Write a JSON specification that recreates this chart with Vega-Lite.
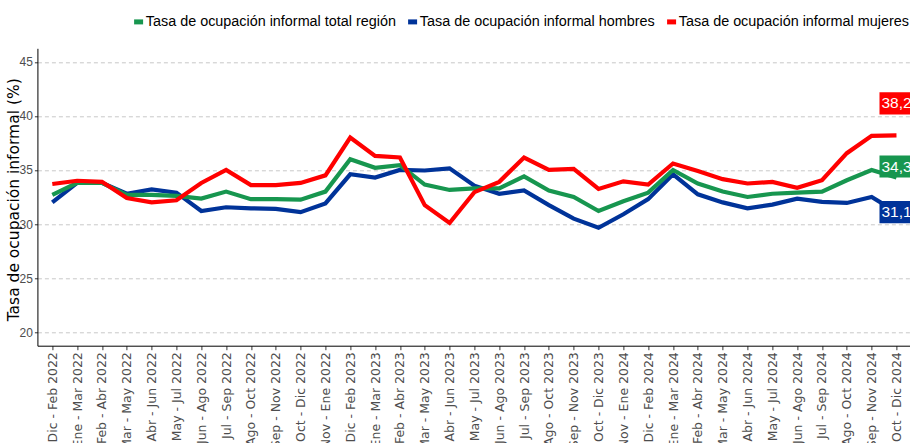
{
  "$schema": "https://vega.github.io/schema/vega-lite/v6.json",
  "autosize": {"type": "none"},
  "width": 874,
  "height": 297.4,
  "padding": {"left": 37.4, "top": 48.3, "right": 0, "bottom": 100},
  "background": "white",
  "config": {
    "view": {"stroke": null},
    "locale": {"number": {"decimal": ",", "thousands": ".", "grouping": [3], "currency": ["", " €"]}},
    "axis": {"domainColor": "#000000", "domainWidth": 1, "tickColor": "#333333", "titleFontWeight": "normal"}
  },
  "data": {"values": [
    {"periodo": "Dic - Feb 2022", "serie": "Tasa de ocupación informal hombres", "valor": 32.0},
    {"periodo": "Ene - Mar 2022", "serie": "Tasa de ocupación informal hombres", "valor": 33.8},
    {"periodo": "Feb - Abr 2022", "serie": "Tasa de ocupación informal hombres", "valor": 33.8},
    {"periodo": "Mar - May 2022", "serie": "Tasa de ocupación informal hombres", "valor": 32.8},
    {"periodo": "Abr - Jun 2022", "serie": "Tasa de ocupación informal hombres", "valor": 33.2},
    {"periodo": "May - Jul 2022", "serie": "Tasa de ocupación informal hombres", "valor": 32.9},
    {"periodo": "Jun - Ago 2022", "serie": "Tasa de ocupación informal hombres", "valor": 31.2},
    {"periodo": "Jul - Sep 2022", "serie": "Tasa de ocupación informal hombres", "valor": 31.55},
    {"periodo": "Ago - Oct 2022", "serie": "Tasa de ocupación informal hombres", "valor": 31.45},
    {"periodo": "Sep - Nov 2022", "serie": "Tasa de ocupación informal hombres", "valor": 31.4},
    {"periodo": "Oct - Dic 2022", "serie": "Tasa de ocupación informal hombres", "valor": 31.1},
    {"periodo": "Nov - Ene 2022", "serie": "Tasa de ocupación informal hombres", "valor": 31.9},
    {"periodo": "Dic - Feb 2023", "serie": "Tasa de ocupación informal hombres", "valor": 34.6},
    {"periodo": "Ene - Mar 2023", "serie": "Tasa de ocupación informal hombres", "valor": 34.3},
    {"periodo": "Feb - Abr 2023", "serie": "Tasa de ocupación informal hombres", "valor": 35.0},
    {"periodo": "Mar - May 2023", "serie": "Tasa de ocupación informal hombres", "valor": 34.95},
    {"periodo": "Abr - Jun 2023", "serie": "Tasa de ocupación informal hombres", "valor": 35.15},
    {"periodo": "May - Jul 2023", "serie": "Tasa de ocupación informal hombres", "valor": 33.55},
    {"periodo": "Jun - Ago 2023", "serie": "Tasa de ocupación informal hombres", "valor": 32.8},
    {"periodo": "Jul - Sep 2023", "serie": "Tasa de ocupación informal hombres", "valor": 33.1},
    {"periodo": "Ago - Oct 2023", "serie": "Tasa de ocupación informal hombres", "valor": 31.75},
    {"periodo": "Sep - Nov 2023", "serie": "Tasa de ocupación informal hombres", "valor": 30.5},
    {"periodo": "Oct - Dic 2023", "serie": "Tasa de ocupación informal hombres", "valor": 29.65},
    {"periodo": "Nov - Ene 2024", "serie": "Tasa de ocupación informal hombres", "valor": 30.9},
    {"periodo": "Dic - Feb 2024", "serie": "Tasa de ocupación informal hombres", "valor": 32.3},
    {"periodo": "Ene - Mar 2024", "serie": "Tasa de ocupación informal hombres", "valor": 34.6},
    {"periodo": "Feb - Abr 2024", "serie": "Tasa de ocupación informal hombres", "valor": 32.75},
    {"periodo": "Mar - May 2024", "serie": "Tasa de ocupación informal hombres", "valor": 32.0},
    {"periodo": "Abr - Jun 2024", "serie": "Tasa de ocupación informal hombres", "valor": 31.45},
    {"periodo": "May - Jul 2024", "serie": "Tasa de ocupación informal hombres", "valor": 31.8},
    {"periodo": "Jun - Ago 2024", "serie": "Tasa de ocupación informal hombres", "valor": 32.35},
    {"periodo": "Jul - Sep 2024", "serie": "Tasa de ocupación informal hombres", "valor": 32.05},
    {"periodo": "Ago - Oct 2024", "serie": "Tasa de ocupación informal hombres", "valor": 31.95},
    {"periodo": "Sep - Nov 2024", "serie": "Tasa de ocupación informal hombres", "valor": 32.5},
    {"periodo": "Oct - Dic 2024", "serie": "Tasa de ocupación informal hombres", "valor": 31.1},
    {"periodo": "Dic - Feb 2022", "serie": "Tasa de ocupación informal total región", "valor": 32.7},
    {"periodo": "Ene - Mar 2022", "serie": "Tasa de ocupación informal total región", "valor": 33.8},
    {"periodo": "Feb - Abr 2022", "serie": "Tasa de ocupación informal total región", "valor": 33.8},
    {"periodo": "Mar - May 2022", "serie": "Tasa de ocupación informal total región", "valor": 32.7},
    {"periodo": "Abr - Jun 2022", "serie": "Tasa de ocupación informal total región", "valor": 32.7},
    {"periodo": "May - Jul 2022", "serie": "Tasa de ocupación informal total región", "valor": 32.6},
    {"periodo": "Jun - Ago 2022", "serie": "Tasa de ocupación informal total región", "valor": 32.35},
    {"periodo": "Jul - Sep 2022", "serie": "Tasa de ocupación informal total región", "valor": 33.0},
    {"periodo": "Ago - Oct 2022", "serie": "Tasa de ocupación informal total región", "valor": 32.3},
    {"periodo": "Sep - Nov 2022", "serie": "Tasa de ocupación informal total región", "valor": 32.3},
    {"periodo": "Oct - Dic 2022", "serie": "Tasa de ocupación informal total región", "valor": 32.25},
    {"periodo": "Nov - Ene 2022", "serie": "Tasa de ocupación informal total región", "valor": 33.0},
    {"periodo": "Dic - Feb 2023", "serie": "Tasa de ocupación informal total región", "valor": 36.0},
    {"periodo": "Ene - Mar 2023", "serie": "Tasa de ocupación informal total región", "valor": 35.2},
    {"periodo": "Feb - Abr 2023", "serie": "Tasa de ocupación informal total región", "valor": 35.45},
    {"periodo": "Mar - May 2023", "serie": "Tasa de ocupación informal total región", "valor": 33.65},
    {"periodo": "Abr - Jun 2023", "serie": "Tasa de ocupación informal total región", "valor": 33.15},
    {"periodo": "May - Jul 2023", "serie": "Tasa de ocupación informal total región", "valor": 33.3},
    {"periodo": "Jun - Ago 2023", "serie": "Tasa de ocupación informal total región", "valor": 33.3},
    {"periodo": "Jul - Sep 2023", "serie": "Tasa de ocupación informal total región", "valor": 34.4},
    {"periodo": "Ago - Oct 2023", "serie": "Tasa de ocupación informal total región", "valor": 33.1},
    {"periodo": "Sep - Nov 2023", "serie": "Tasa de ocupación informal total región", "valor": 32.5},
    {"periodo": "Oct - Dic 2023", "serie": "Tasa de ocupación informal total región", "valor": 31.2},
    {"periodo": "Nov - Ene 2024", "serie": "Tasa de ocupación informal total región", "valor": 32.1},
    {"periodo": "Dic - Feb 2024", "serie": "Tasa de ocupación informal total región", "valor": 32.9},
    {"periodo": "Ene - Mar 2024", "serie": "Tasa de ocupación informal total región", "valor": 35.0},
    {"periodo": "Feb - Abr 2024", "serie": "Tasa de ocupación informal total región", "valor": 33.75},
    {"periodo": "Mar - May 2024", "serie": "Tasa de ocupación informal total región", "valor": 33.0},
    {"periodo": "Abr - Jun 2024", "serie": "Tasa de ocupación informal total región", "valor": 32.5},
    {"periodo": "May - Jul 2024", "serie": "Tasa de ocupación informal total región", "valor": 32.8},
    {"periodo": "Jun - Ago 2024", "serie": "Tasa de ocupación informal total región", "valor": 32.9},
    {"periodo": "Jul - Sep 2024", "serie": "Tasa de ocupación informal total región", "valor": 33.0},
    {"periodo": "Ago - Oct 2024", "serie": "Tasa de ocupación informal total región", "valor": 34.05},
    {"periodo": "Sep - Nov 2024", "serie": "Tasa de ocupación informal total región", "valor": 35.0},
    {"periodo": "Oct - Dic 2024", "serie": "Tasa de ocupación informal total región", "valor": 34.3},
    {"periodo": "Dic - Feb 2022", "serie": "Tasa de ocupación informal mujeres", "valor": 33.7},
    {"periodo": "Ene - Mar 2022", "serie": "Tasa de ocupación informal mujeres", "valor": 34.0},
    {"periodo": "Feb - Abr 2022", "serie": "Tasa de ocupación informal mujeres", "valor": 33.9},
    {"periodo": "Mar - May 2022", "serie": "Tasa de ocupación informal mujeres", "valor": 32.4},
    {"periodo": "Abr - Jun 2022", "serie": "Tasa de ocupación informal mujeres", "valor": 32.0},
    {"periodo": "May - Jul 2022", "serie": "Tasa de ocupación informal mujeres", "valor": 32.2},
    {"periodo": "Jun - Ago 2022", "serie": "Tasa de ocupación informal mujeres", "valor": 33.8},
    {"periodo": "Jul - Sep 2022", "serie": "Tasa de ocupación informal mujeres", "valor": 35.0},
    {"periodo": "Ago - Oct 2022", "serie": "Tasa de ocupación informal mujeres", "valor": 33.6},
    {"periodo": "Sep - Nov 2022", "serie": "Tasa de ocupación informal mujeres", "valor": 33.6},
    {"periodo": "Oct - Dic 2022", "serie": "Tasa de ocupación informal mujeres", "valor": 33.8},
    {"periodo": "Nov - Ene 2022", "serie": "Tasa de ocupación informal mujeres", "valor": 34.5},
    {"periodo": "Dic - Feb 2023", "serie": "Tasa de ocupación informal mujeres", "valor": 38.0},
    {"periodo": "Ene - Mar 2023", "serie": "Tasa de ocupación informal mujeres", "valor": 36.3},
    {"periodo": "Feb - Abr 2023", "serie": "Tasa de ocupación informal mujeres", "valor": 36.15},
    {"periodo": "Mar - May 2023", "serie": "Tasa de ocupación informal mujeres", "valor": 31.75},
    {"periodo": "Abr - Jun 2023", "serie": "Tasa de ocupación informal mujeres", "valor": 30.1},
    {"periodo": "May - Jul 2023", "serie": "Tasa de ocupación informal mujeres", "valor": 32.95},
    {"periodo": "Jun - Ago 2023", "serie": "Tasa de ocupación informal mujeres", "valor": 33.9},
    {"periodo": "Jul - Sep 2023", "serie": "Tasa de ocupación informal mujeres", "valor": 36.15},
    {"periodo": "Ago - Oct 2023", "serie": "Tasa de ocupación informal mujeres", "valor": 35.0},
    {"periodo": "Sep - Nov 2023", "serie": "Tasa de ocupación informal mujeres", "valor": 35.1},
    {"periodo": "Oct - Dic 2023", "serie": "Tasa de ocupación informal mujeres", "valor": 33.25},
    {"periodo": "Nov - Ene 2024", "serie": "Tasa de ocupación informal mujeres", "valor": 33.95},
    {"periodo": "Dic - Feb 2024", "serie": "Tasa de ocupación informal mujeres", "valor": 33.65},
    {"periodo": "Ene - Mar 2024", "serie": "Tasa de ocupación informal mujeres", "valor": 35.6},
    {"periodo": "Feb - Abr 2024", "serie": "Tasa de ocupación informal mujeres", "valor": 34.9},
    {"periodo": "Mar - May 2024", "serie": "Tasa de ocupación informal mujeres", "valor": 34.15},
    {"periodo": "Abr - Jun 2024", "serie": "Tasa de ocupación informal mujeres", "valor": 33.75},
    {"periodo": "May - Jul 2024", "serie": "Tasa de ocupación informal mujeres", "valor": 33.9},
    {"periodo": "Jun - Ago 2024", "serie": "Tasa de ocupación informal mujeres", "valor": 33.35},
    {"periodo": "Jul - Sep 2024", "serie": "Tasa de ocupación informal mujeres", "valor": 34.05},
    {"periodo": "Ago - Oct 2024", "serie": "Tasa de ocupación informal mujeres", "valor": 36.55},
    {"periodo": "Sep - Nov 2024", "serie": "Tasa de ocupación informal mujeres", "valor": 38.15},
    {"periodo": "Oct - Dic 2024", "serie": "Tasa de ocupación informal mujeres", "valor": 38.2}
  ]},
  "encoding": {
    "x": {
      "field": "periodo", "type": "nominal",
      "sort": ["Dic - Feb 2022", "Ene - Mar 2022", "Feb - Abr 2022", "Mar - May 2022", "Abr - Jun 2022", "May - Jul 2022", "Jun - Ago 2022", "Jul - Sep 2022", "Ago - Oct 2022", "Sep - Nov 2022", "Oct - Dic 2022", "Nov - Ene 2022", "Dic - Feb 2023", "Ene - Mar 2023", "Feb - Abr 2023", "Mar - May 2023", "Abr - Jun 2023", "May - Jul 2023", "Jun - Ago 2023", "Jul - Sep 2023", "Ago - Oct 2023", "Sep - Nov 2023", "Oct - Dic 2023", "Nov - Ene 2024", "Dic - Feb 2024", "Ene - Mar 2024", "Feb - Abr 2024", "Mar - May 2024", "Abr - Jun 2024", "May - Jul 2024", "Jun - Ago 2024", "Jul - Sep 2024", "Ago - Oct 2024", "Sep - Nov 2024", "Oct - Dic 2024"],
      "scale": {"type": "point", "padding": 0.6},
      "axis": {"title": null, "labelAngle": -90, "labelFont": "DejaVu Sans", "labelFontSize": 12.5, "labelColor": "#4d4d4d", "labelPadding": 2, "tickSize": 4, "grid": false, "labelOverlap": false}
    },
    "y": {
      "field": "valor", "type": "quantitative",
      "scale": {"domain": [18.75, 46.25], "nice": false, "zero": false},
      "axis": {
        "title": "Tasa de ocupación informal (%)", "titleFont": "DejaVu Sans", "titleFontSize": 15.5, "titleColor": "#000000",
        "titleX": -23.5, "titleY": 151, "titleAngle": -90, "titleAlign": "center", "titleBaseline": "middle",
        "values": [20, 25, 30, 35, 40, 45], "labelFont": "Liberation Sans", "labelFontSize": 12, "labelColor": "#4d4d4d",
        "labelPadding": 2, "tickSize": 3, "grid": true, "gridColor": "#c8c8c8", "gridDash": [4, 3], "gridWidth": 1
      }
    }
  },
  "layer": [
    {
      "mark": {"type": "line", "strokeWidth": 4.2},
      "encoding": {
        "color": {
          "field": "serie", "type": "nominal",
          "scale": {"domain": ["Tasa de ocupación informal total región", "Tasa de ocupación informal hombres", "Tasa de ocupación informal mujeres"], "range": ["#17964F", "#003399", "#FF0000"]},
          "legend": {
            "title": null, "orient": "none", "legendX": 94, "legendY": -34, "direction": "horizontal", "columns": 3,
            "symbolType": "stroke", "symbolSize": 81, "symbolStrokeWidth": 5, "labelFont": "Liberation Sans", "labelFontSize": 14.4,
            "labelColor": "#000000", "labelLimit": 400, "columnPadding": 1, "labelOffset": 0
          }
        }
      }
    },
    {
      "transform": [{"filter": "datum.periodo == 'Oct - Dic 2024' && datum.serie == 'Tasa de ocupación informal mujeres'"}],
      "layer": [
        {"mark": {"type": "point", "shape": "M-1,-0.65L1,-0.65L1,0.65L-1,0.65Z", "size": 1156, "filled": true, "opacity": 1, "color": "#FF0000", "strokeWidth": 0, "yOffset": -32}},
        {"mark": {"type": "text", "color": "white", "font": "Liberation Sans", "fontSize": 15.5, "align": "center", "baseline": "middle", "yOffset": -32}, "encoding": {"text": {"field": "valor", "type": "quantitative", "format": ".1f"}}}
      ]
    },
    {
      "transform": [{"filter": "datum.periodo == 'Oct - Dic 2024' && datum.serie == 'Tasa de ocupación informal total región'"}],
      "layer": [
        {"mark": {"type": "point", "shape": "M-1,-0.65L1,-0.65L1,0.65L-1,0.65Z", "size": 1156, "filled": true, "opacity": 1, "color": "#17964F", "strokeWidth": 0, "yOffset": -11}},
        {"mark": {"type": "text", "color": "white", "font": "Liberation Sans", "fontSize": 15.5, "align": "center", "baseline": "middle", "yOffset": -11}, "encoding": {"text": {"field": "valor", "type": "quantitative", "format": ".1f"}}}
      ]
    },
    {
      "transform": [{"filter": "datum.periodo == 'Oct - Dic 2024' && datum.serie == 'Tasa de ocupación informal hombres'"}],
      "layer": [
        {"mark": {"type": "point", "shape": "M-1,-0.65L1,-0.65L1,0.65L-1,0.65Z", "size": 1156, "filled": true, "opacity": 1, "color": "#003399", "strokeWidth": 0, "yOffset": 0}},
        {"mark": {"type": "text", "color": "white", "font": "Liberation Sans", "fontSize": 15.5, "align": "center", "baseline": "middle", "yOffset": 0}, "encoding": {"text": {"field": "valor", "type": "quantitative", "format": ".1f"}}}
      ]
    }
  ]
}
